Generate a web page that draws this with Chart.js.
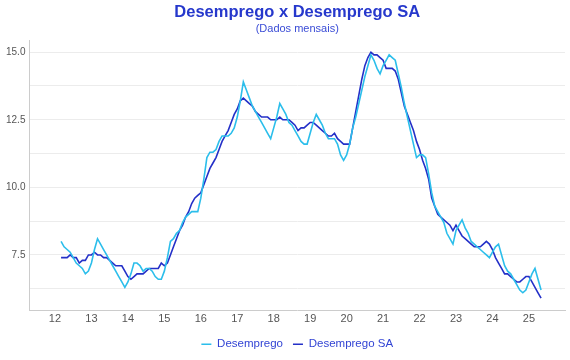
<!DOCTYPE html>
<html>
<head>
<meta charset="utf-8">
<script src="https://cdn.jsdelivr.net/npm/chart.js@4.4.1/dist/chart.umd.min.js"></script>
<style>
  html, body { margin: 0; padding: 0; background: #fff; }
  #wrap { width: 570px; height: 360px; }
</style>
</head>
<body>
<div id="wrap"><canvas id="chart"></canvas></div>
<script>
// monthly series, first point = March 2012
const firstYear = 2012;
const firstMonth = 3;

const desemprego = [
    8.0, 7.8, 7.7, 7.6, 7.4, 7.2, 7.1, 7.0, 6.8, 6.9,
    7.2, 7.7, 8.1, 7.9, 7.7, 7.5, 7.3, 7.1, 6.9, 6.7, 6.5, 6.3,
    6.5, 6.8, 7.2, 7.2, 7.1, 6.9, 7.0, 7.0, 6.9, 6.7, 6.6, 6.6,
    6.9, 7.4, 8.0, 8.1, 8.3, 8.4, 8.7, 8.9, 9.0, 9.1, 9.1, 9.1,
    9.6, 10.3, 11.1, 11.3, 11.3, 11.4, 11.7, 11.9, 11.9, 11.9, 12.0, 12.2,
    12.6, 13.2, 13.9, 13.6, 13.3, 13.0, 12.8, 12.6, 12.4, 12.2, 12.0, 11.8,
    12.2, 12.6, 13.1, 12.9, 12.7, 12.4, 12.3, 12.1, 11.9, 11.7, 11.6, 11.6,
    12.0, 12.4, 12.7, 12.5, 12.3, 12.0, 11.8, 11.8, 11.8, 11.6, 11.2, 11.0,
    11.2, 11.6, 12.2, 12.6, 13.1, 13.6, 14.1, 14.5, 14.9, 14.7, 14.4, 14.2,
    14.5, 14.7, 14.9, 14.8, 14.7, 14.2, 13.7, 13.1, 12.6, 12.1, 11.6, 11.1,
    11.2, 11.2, 11.1, 10.5, 9.8, 9.3, 9.1, 8.9, 8.7, 8.3, 8.1, 7.9,
    8.4, 8.6, 8.8, 8.5, 8.3, 8.0, 7.9, 7.8, 7.7, 7.6, 7.5, 7.4,
    7.6, 7.8, 7.9, 7.5, 7.1, 6.9, 6.8, 6.6, 6.4, 6.2, 6.1, 6.2,
    6.5, 6.8, 7.0, 6.6, 6.2
];

const desempregoSA = [
    7.4, 7.4, 7.4, 7.5, 7.4, 7.4, 7.2, 7.3, 7.3, 7.5,
    7.5, 7.6, 7.5, 7.5, 7.4, 7.4, 7.3, 7.2, 7.1, 7.1, 7.1, 6.9,
    6.7, 6.6, 6.7, 6.8, 6.8, 6.8, 6.9, 7.0, 7.0, 7.0, 7.0, 7.2,
    7.1, 7.2, 7.5, 7.8, 8.1, 8.4, 8.6, 8.9, 9.1, 9.4, 9.6, 9.7,
    9.8, 10.1, 10.4, 10.7, 10.9, 11.1, 11.4, 11.7, 11.9, 12.1, 12.4, 12.7,
    12.9, 13.2, 13.3, 13.2, 13.1, 13.0, 12.8, 12.7, 12.6, 12.6, 12.6, 12.5,
    12.5, 12.5, 12.6, 12.5, 12.5, 12.5, 12.4, 12.3, 12.1, 12.2, 12.2, 12.3,
    12.4, 12.4, 12.3, 12.2, 12.1, 12.0, 11.9, 11.9, 12.0, 11.8, 11.7, 11.6,
    11.6, 11.6, 12.2, 12.8, 13.4, 14.0, 14.5, 14.8, 15.0, 14.9, 14.9, 14.8,
    14.7, 14.4, 14.4, 14.4, 14.3, 14.0, 13.5, 13.0, 12.7, 12.4, 12.1, 11.7,
    11.4, 11.0, 10.7, 10.3, 9.6, 9.3, 9.0, 8.9, 8.8, 8.7, 8.6, 8.4,
    8.6, 8.4, 8.2, 8.1, 8.0, 7.9, 7.8, 7.8, 7.8, 7.9, 8.0, 7.9,
    7.7, 7.4, 7.2, 7.0, 6.8, 6.8, 6.7, 6.6, 6.5, 6.5, 6.6, 6.7,
    6.7, 6.5, 6.3, 6.1, 5.9
];

const yearTicks = [2012, 2013, 2014, 2015, 2016, 2017, 2018, 2019, 2020, 2021, 2022, 2023, 2024, 2025];
const yTicks = [6.25, 7.5, 8.75, 10, 11.25, 12.5, 13.75, 15];

const toPoints = (values) => values.map((v, i) => ({
    x: firstYear + (firstMonth - 1 + i) / 12,
    y: v
}));

Chart.defaults.font.family = '"Liberation Sans", Arial, sans-serif';

new Chart(document.getElementById('chart'), {
    type: 'line',
    data: {
        datasets: [{
            label: 'Desemprego',
            data: toPoints(desemprego),
            borderColor: 'rgb(43,190,235)',
            backgroundColor: 'rgb(43,190,235)',
            borderWidth: 1.6
        }, {
            label: 'Desemprego SA',
            data: toPoints(desempregoSA),
            borderColor: 'rgb(36,48,200)',
            backgroundColor: 'rgb(36,48,200)',
            borderWidth: 1.6
        }]
    },
    options: {
        animation: false,
        maintainAspectRatio: false,
        layout: { padding: { left: 2, right: 5 } },
        elements: { point: { radius: 0 }, line: { tension: 0 } },
        scales: {
            x: {
                type: 'linear',
                min: 2011.3,
                max: 2025.99,
                afterBuildTicks: (axis) => { axis.ticks = yearTicks.map(v => ({ value: v })); },
                grid: { display: false, drawTicks: false },
                border: { color: '#cccccc' },
                ticks: {
                    padding: 0,
                    color: '#555',
                    font: { size: 11, lineHeight: 1.65 },
                    maxRotation: 0,
                    autoSkip: false,
                    callback: (v) => String(v).slice(2)
                }
            },
            y: {
                min: 5.45,
                max: 15.45,
                afterBuildTicks: (axis) => { axis.ticks = yTicks.map(v => ({ value: v })); },
                grid: { color: '#ececec', drawTicks: false },
                border: { color: '#cccccc' },
                ticks: {
                    padding: 4,
                    color: '#555',
                    font: { size: 10 },
                    callback: (v) => (v % 2.5 === 0 ? v.toFixed(1) : '')
                }
            }
        },
        plugins: {
            title: {
                display: true,
                text: 'Desemprego x Desemprego SA',
                fullSize: false,
                color: 'rgb(38,56,204)',
                font: { size: 16.5, weight: 'bold' },
                padding: { top: 3, bottom: 0 }
            },
            subtitle: {
                display: true,
                text: '(Dados mensais)',
                fullSize: false,
                color: 'rgb(58,76,214)',
                font: { size: 11 },
                padding: { top: 0, bottom: 4 }
            },
            legend: {
                position: 'bottom',
                fullSize: false,
                labels: {
                    usePointStyle: true,
                    pointStyle: 'line',
                    pointStyleWidth: 10,
                    color: 'rgb(50,68,212)',
                    font: { size: 11.5 },
                    padding: 10
                }
            },
            tooltip: { enabled: false }
        }
    }
});
</script>
</body>
</html>
